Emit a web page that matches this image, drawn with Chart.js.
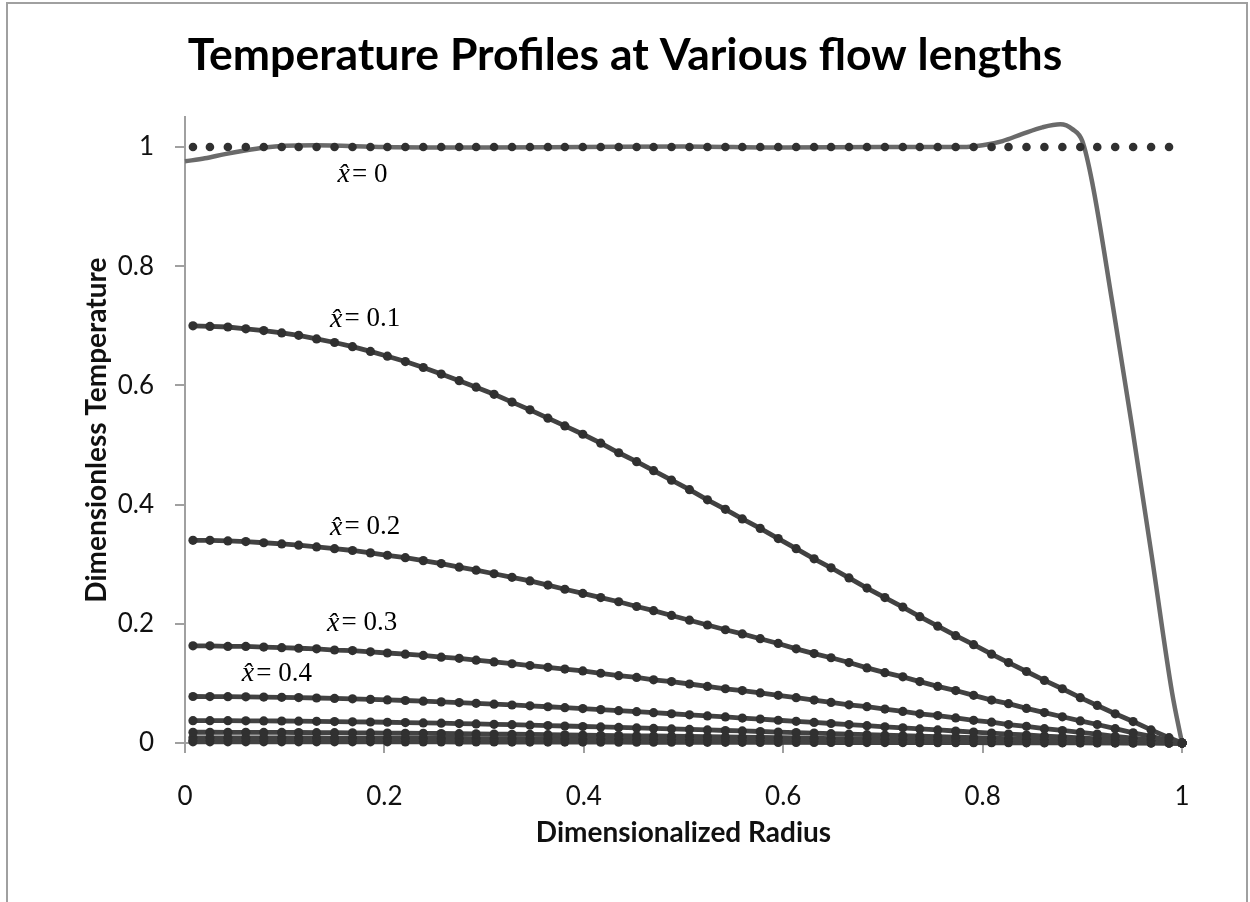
<!DOCTYPE html>
<html>
<head>
<meta charset="utf-8">
<title>Temperature Profiles at Various flow lengths</title>
<script src="https://cdn.jsdelivr.net/npm/chart.js@4.4.1/dist/chart.umd.min.js"></script>
<style>
  html, body { margin: 0; padding: 0; background: #fff; }
  #wrap { width: 1250px; height: 902px; position: relative; }
</style>
</head>
<body>
<div id="wrap"><canvas id="profileChart" width="1250" height="902"></canvas></div>
<script>
// Radial positions of the numerical points (dimensionless radius)
const radius = [
  0.008, 0.025, 0.043, 0.061, 0.079, 0.097, 0.114, 0.132, 0.150, 0.168,
  0.186, 0.203, 0.221, 0.239, 0.257, 0.275, 0.292, 0.310, 0.328, 0.346,
  0.364, 0.381, 0.399, 0.417, 0.435, 0.453, 0.470, 0.488, 0.506, 0.524,
  0.542, 0.559, 0.577, 0.595, 0.613, 0.631, 0.648, 0.666, 0.684, 0.702,
  0.720, 0.737, 0.755, 0.773, 0.791, 0.809, 0.826, 0.844, 0.862, 0.880,
  0.898, 0.915, 0.933, 0.951, 0.969, 0.987, 1.000
];

// x-hat = 0 : inlet condition (dots) and truncated series (line)
const tempX0Dots = [
  1, 1, 1, 1, 1, 1, 1, 1, 1, 1,
  1, 1, 1, 1, 1, 1, 1, 1, 1, 1,
  1, 1, 1, 1, 1, 1, 1, 1, 1, 1,
  1, 1, 1, 1, 1, 1, 1, 1, 1, 1,
  1, 1, 1, 1, 1, 1, 1, 1, 1, 1,
  1, 1, 1, 1, 1, 1, null
];
const lineRadiusX0 = [0, 0.02, 0.04, 0.06, 0.08, 0.10, 0.13, 0.2, 0.3, 0.4, 0.5, 0.6, 0.7, 0.78,
  0.80, 0.82, 0.84, 0.86, 0.878, 0.89, 0.90, 0.91, 0.93, 0.95, 0.97, 0.99, 1.0];
const lineTempX0 = [0.976, 0.981, 0.988, 0.994, 0.999, 1.002, 1.003, 1.0, 0.999, 1.0, 1.001, 0.999, 1.0, 1.0,
  1.003, 1.01, 1.022, 1.033, 1.038, 1.03, 1.01, 0.94, 0.74, 0.53, 0.31, 0.085, 0];

// Developing profiles further down the pipe
const tempX01 = [
  0.700, 0.699, 0.698, 0.695, 0.692, 0.688, 0.684, 0.678, 0.672, 0.665,
  0.657, 0.649, 0.640, 0.630, 0.619, 0.608, 0.597, 0.585, 0.572, 0.559,
  0.545, 0.532, 0.518, 0.503, 0.487, 0.472, 0.457, 0.441, 0.425, 0.408,
  0.392, 0.376, 0.360, 0.343, 0.326, 0.309, 0.294, 0.277, 0.260, 0.244,
  0.228, 0.212, 0.196, 0.180, 0.165, 0.149, 0.135, 0.120, 0.105, 0.091,
  0.076, 0.063, 0.049, 0.036, 0.022, 0.009, 0
];
const tempX02 = [
  0.340, 0.340, 0.339, 0.338, 0.336, 0.334, 0.332, 0.329, 0.326, 0.323,
  0.319, 0.315, 0.311, 0.306, 0.301, 0.295, 0.290, 0.284, 0.278, 0.272,
  0.265, 0.258, 0.251, 0.244, 0.237, 0.229, 0.222, 0.214, 0.206, 0.198,
  0.190, 0.183, 0.175, 0.167, 0.158, 0.150, 0.143, 0.135, 0.126, 0.118,
  0.111, 0.103, 0.095, 0.088, 0.080, 0.072, 0.066, 0.058, 0.051, 0.044,
  0.037, 0.031, 0.024, 0.017, 0.011, 0.004, 0
];
const tempX03 = [
  0.163, 0.163, 0.162, 0.162, 0.161, 0.160, 0.159, 0.158, 0.156, 0.155,
  0.153, 0.151, 0.149, 0.147, 0.144, 0.142, 0.139, 0.136, 0.133, 0.130,
  0.127, 0.124, 0.121, 0.117, 0.113, 0.110, 0.106, 0.103, 0.099, 0.095,
  0.091, 0.088, 0.084, 0.080, 0.076, 0.072, 0.068, 0.064, 0.061, 0.057,
  0.053, 0.049, 0.046, 0.042, 0.038, 0.035, 0.031, 0.028, 0.024, 0.021,
  0.018, 0.015, 0.011, 0.008, 0.005, 0.002, 0
];
const tempX04 = [
  0.0780, 0.0779, 0.0777, 0.0775, 0.0771, 0.0767, 0.0762, 0.0755, 0.0748, 0.0741,
  0.0732, 0.0723, 0.0713, 0.0702, 0.0690, 0.0678, 0.0665, 0.0652, 0.0638, 0.0623,
  0.0608, 0.0593, 0.0577, 0.0560, 0.0543, 0.0526, 0.0509, 0.0491, 0.0473, 0.0455,
  0.0437, 0.0419, 0.0401, 0.0382, 0.0363, 0.0345, 0.0327, 0.0309, 0.0290, 0.0272,
  0.0254, 0.0236, 0.0219, 0.0201, 0.0184, 0.0166, 0.0150, 0.0134, 0.0117, 0.0101,
  0.0085, 0.0070, 0.0055, 0.0040, 0.0025, 0.0010, 0
];
const tempX05 = [
  0.0375, 0.0375, 0.0374, 0.0372, 0.0371, 0.0369, 0.0366, 0.0363, 0.0360, 0.0356,
  0.0352, 0.0348, 0.0343, 0.0337, 0.0332, 0.0326, 0.0320, 0.0313, 0.0307, 0.0299,
  0.0292, 0.0285, 0.0277, 0.0269, 0.0261, 0.0253, 0.0245, 0.0236, 0.0228, 0.0219,
  0.0210, 0.0202, 0.0193, 0.0184, 0.0175, 0.0166, 0.0157, 0.0148, 0.0139, 0.0131,
  0.0122, 0.0114, 0.0105, 0.0097, 0.0088, 0.0080, 0.0072, 0.0064, 0.0056, 0.0049,
  0.0041, 0.0034, 0.0026, 0.0019, 0.0012, 0.0005, 0
];
const tempX06 = [
  0.0180, 0.0180, 0.0179, 0.0179, 0.0178, 0.0177, 0.0176, 0.0174, 0.0173, 0.0171,
  0.0169, 0.0167, 0.0164, 0.0162, 0.0159, 0.0156, 0.0154, 0.0150, 0.0147, 0.0144,
  0.0140, 0.0137, 0.0133, 0.0129, 0.0125, 0.0121, 0.0118, 0.0113, 0.0109, 0.0105,
  0.0101, 0.0097, 0.0092, 0.0088, 0.0084, 0.0080, 0.0075, 0.0071, 0.0067, 0.0063,
  0.0059, 0.0055, 0.0050, 0.0046, 0.0042, 0.0038, 0.0035, 0.0031, 0.0027, 0.0023,
  0.0020, 0.0016, 0.0013, 0.0009, 0.0006, 0.0002, 0
];
const tempX07 = [
  0.0087, 0.0087, 0.0087, 0.0086, 0.0086, 0.0086, 0.0085, 0.0084, 0.0083, 0.0083,
  0.0082, 0.0081, 0.0079, 0.0078, 0.0077, 0.0076, 0.0074, 0.0073, 0.0071, 0.0069,
  0.0068, 0.0066, 0.0064, 0.0062, 0.0061, 0.0059, 0.0057, 0.0055, 0.0053, 0.0051,
  0.0049, 0.0047, 0.0045, 0.0043, 0.0041, 0.0038, 0.0036, 0.0034, 0.0032, 0.0030,
  0.0028, 0.0026, 0.0024, 0.0022, 0.0020, 0.0019, 0.0017, 0.0015, 0.0013, 0.0011,
  0.0009, 0.0008, 0.0006, 0.0004, 0.0003, 0.0001, 0
];
const tempX08 = [
  0.0042, 0.0042, 0.0042, 0.0042, 0.0042, 0.0041, 0.0041, 0.0041, 0.0040, 0.0040,
  0.0039, 0.0039, 0.0038, 0.0038, 0.0037, 0.0036, 0.0036, 0.0035, 0.0034, 0.0034,
  0.0033, 0.0032, 0.0031, 0.0030, 0.0029, 0.0028, 0.0027, 0.0026, 0.0025, 0.0025,
  0.0024, 0.0023, 0.0022, 0.0021, 0.0020, 0.0019, 0.0018, 0.0017, 0.0016, 0.0015,
  0.0014, 0.0013, 0.0012, 0.0011, 0.0010, 0.0009, 0.0008, 0.0007, 0.0006, 0.0005,
  0.0005, 0.0004, 0.0003, 0.0002, 0.0001, 0.0001, 0
];
const tempX09 = [
  0.0020, 0.0020, 0.0020, 0.0020, 0.0020, 0.0020, 0.0020, 0.0019, 0.0019, 0.0019,
  0.0019, 0.0019, 0.0018, 0.0018, 0.0018, 0.0017, 0.0017, 0.0017, 0.0016, 0.0016,
  0.0016, 0.0015, 0.0015, 0.0014, 0.0014, 0.0013, 0.0013, 0.0013, 0.0012, 0.0012,
  0.0011, 0.0011, 0.0010, 0.0010, 0.0009, 0.0009, 0.0008, 0.0008, 0.0007, 0.0007,
  0.0007, 0.0006, 0.0006, 0.0005, 0.0005, 0.0004, 0.0004, 0.0003, 0.0003, 0.0003,
  0.0002, 0.0002, 0.0001, 0.0001, 0.0001, 0.0000, 0
];

// Curve labels: text after the x-hat, and where the label starts (radius, temperature)
const labelTexts = ['0', '0.1', '0.2', '0.3', '0.4'];
const labelRadius = [0.153, 0.1455, 0.1455, 0.1425, 0.057];
const labelTemp = [0.953, 0.711, 0.362, 0.201, 0.116];

// Tick values and their labels
const xTicks = [0, 0.2, 0.4, 0.6, 0.8, 1];
const xTickLabels = ['0', '0.2', '0.4', '0.6', '0.8', '1'];
const yTicks = [0, 0.2, 0.4, 0.6, 0.8, 1];
const yTickLabels = ['0', '0.2', '0.4', '0.6', '0.8', '1'];

function toPoints(xs, ys) {
    return xs.map((x, i) => ({ x: x, y: ys[i] }));
}

const dotColor = '#303030';
const curveColor = '#424242';
const axisGray = '#a0a0a0';

const decaying = [tempX01, tempX02, tempX03, tempX04, tempX05, tempX06, tempX07, tempX08, tempX09];

const datasets = [];

// inlet dots on top of the x-hat = 0 line
datasets.push({
    label: 'x = 0 (numerical)',
    data: toPoints(radius, tempX0Dots),
    showLine: false,
    pointRadius: 4.3,
    pointBackgroundColor: dotColor,
    pointBorderWidth: 0,
    clip: false
});

decaying.forEach((series, i) => {
    datasets.push({
        label: 'x = 0.' + (i + 1),
        data: toPoints(radius, series),
        showLine: true,
        borderColor: curveColor,
        borderWidth: 4.8,
        tension: 0,
        pointRadius: 4.6,
        pointBackgroundColor: dotColor,
        pointBorderWidth: 0,
        clip: false
    });
});

datasets.push({
    label: 'x = 0 (series)',
    data: toPoints(lineRadiusX0, lineTempX0),
    showLine: true,
    borderColor: '#6a6a6a',
    borderWidth: 4.5,
    cubicInterpolationMode: 'monotone',
    pointRadius: 0,
    clip: false
});

// white page and the gray frame around the chart area
const framePlugin = {
    id: 'frame',
    beforeDraw(chart) {
        const ctx = chart.ctx;
        ctx.save();
        ctx.fillStyle = '#ffffff';
        ctx.fillRect(0, 0, chart.width, chart.height);
        ctx.restore();
    },
    afterDraw(chart) {
        const ctx = chart.ctx;
        ctx.save();
        ctx.strokeStyle = '#a0a0a0';
        ctx.lineWidth = 2;
        ctx.beginPath();
        ctx.moveTo(7, chart.height);
        ctx.lineTo(7, 3);
        ctx.lineTo(1247, 3);
        ctx.lineTo(1247, chart.height);
        ctx.stroke();
        ctx.restore();
    }
};

// x-hat labels next to each curve
const curveLabelPlugin = {
    id: 'curveLabels',
    afterDatasetsDraw(chart) {
        const ctx = chart.ctx;
        const xs = chart.scales.x;
        const ys = chart.scales.y;
        ctx.save();
        ctx.fillStyle = '#000';
        ctx.textBaseline = 'middle';
        ctx.textAlign = 'left';
        labelTexts.forEach((txt, i) => {
            const px = xs.getPixelForValue(labelRadius[i]);
            const py = ys.getPixelForValue(labelTemp[i]);
            ctx.font = 'italic 28px "Liberation Serif"';
            ctx.fillText('x\u0302', px, py);
            const w = ctx.measureText('x').width;
            ctx.font = '27px "Liberation Serif"';
            ctx.fillText('= ' + txt, px + w + 2, py);
        });
        ctx.restore();
    }
};

new Chart(document.getElementById('profileChart'), {
    type: 'scatter',
    data: { datasets: datasets },
    plugins: [framePlugin, curveLabelPlugin],
    options: {
        responsive: false,
        devicePixelRatio: 1,
        animation: false,
        events: [],
        layout: { padding: 0 },
        plugins: {
            legend: { display: false },
            tooltip: { enabled: false },
            title: {
                display: true,
                text: 'Temperature Profiles at Various flow lengths',
                color: '#000',
                font: { family: 'Lato', size: 44.5, weight: 'bold' },
                padding: { top: 29, bottom: 34.8 }
            }
        },
        scales: {
            x: {
                type: 'linear',
                min: 0,
                max: 1,
                afterBuildTicks: scale => { scale.ticks = xTicks.map(v => ({ value: v })); },
                afterFit: scale => { scale.height = 159; },
                ticks: {
                    color: '#111',
                    font: { family: 'Lato', size: 26 },
                    padding: 28,
                    callback: (v, i) => xTickLabels[i]
                },
                grid: { drawOnChartArea: false, drawTicks: true, tickLength: 10, color: axisGray, lineWidth: 2 },
                border: { display: true, color: axisGray, width: 2 },
                title: {
                    display: true,
                    text: 'Dimensionalized Radius',
                    color: '#111',
                    font: { family: 'Lato', size: 28, weight: 'bold' },
                    padding: { top: 0, bottom: 52 }
                }
            },
            y: {
                type: 'linear',
                min: 0,
                max: 1.05,
                afterBuildTicks: scale => { scale.ticks = yTicks.map(v => ({ value: v })); },
                afterFit: scale => { scale.width = 185; },
                ticks: {
                    color: '#111',
                    font: { family: 'Lato', size: 26 },
                    padding: 21,
                    callback: (v, i) => yTickLabels[i]
                },
                grid: { drawOnChartArea: false, drawTicks: true, tickLength: 10, color: axisGray, lineWidth: 2 },
                border: { display: true, color: axisGray, width: 2 },
                title: {
                    display: true,
                    text: 'Dimensionless Temperature',
                    color: '#111',
                    font: { family: 'Lato', size: 28, weight: 'bold' },
                    padding: { top: 80, bottom: 0 }
                }
            },
            // empty right-hand box that keeps the plot area clear of the frame
            yRightSpace: {
                position: 'right',
                display: true,
                afterFit: scale => { scale.width = 68; },
                ticks: { display: false },
                grid: { display: false },
                border: { display: false }
            }
        }
    }
});
</script>
</body>
</html>
